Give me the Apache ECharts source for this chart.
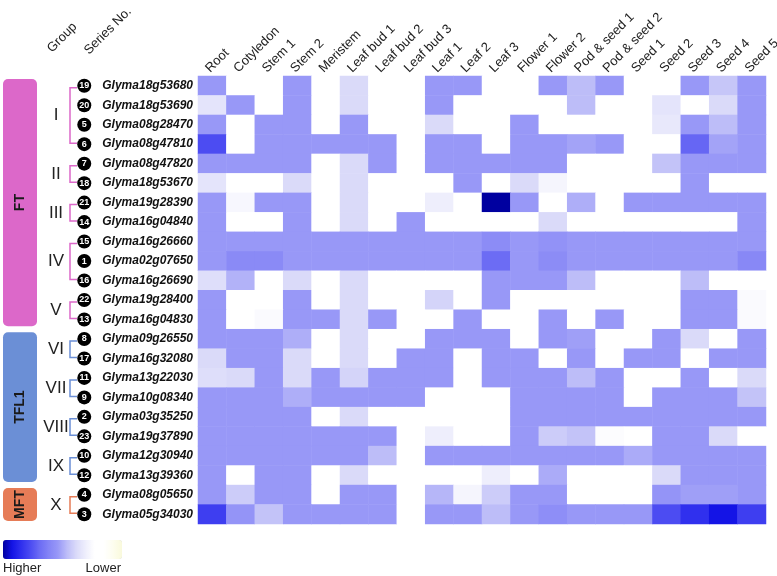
<!DOCTYPE html>
<html>
<head>
<meta charset="utf-8">
<script src="https://cdn.jsdelivr.net/npm/echarts@6/dist/echarts.min.js"></script>
<style>
html,body{margin:0;padding:0;background:#fff;}
#chart{width:777px;height:576px;}
</style>
</head>
<body>
<div id="chart"></div>
<script>
const tissues = ['Root','Cotyledon','Stem 1','Stem 2','Meristem','Leaf bud 1','Leaf bud 2','Leaf bud 3','Leaf 1','Leaf 2','Leaf 3','Flower 1','Flower 2','Pod & seed 1','Pod & seed 2','Seed 1','Seed 2','Seed 3','Seed 4','Seed 5'];
const genes = ['Glyma18g53680','Glyma18g53690','Glyma08g28470','Glyma08g47810','Glyma08g47820','Glyma18g53670','Glyma19g28390','Glyma16g04840','Glyma16g26660','Glyma02g07650','Glyma16g26690','Glyma19g28400','Glyma16g04830','Glyma09g26550','Glyma16g32080','Glyma13g22030','Glyma10g08340','Glyma03g35250','Glyma19g37890','Glyma12g30940','Glyma13g39360','Glyma08g05650','Glyma05g34030'];
const seriesNo = [19,20,5,6,7,18,21,14,15,1,16,22,13,8,17,11,9,2,23,10,12,4,3];

// relative expression level (0 = lowest/white ... 10 = highest/dark blue)
const expr = [
  [4,0,0,4,0,2,0,0,4,4,0,0,4,3,4,0,0,4,2.7,4],
  [1.5,4,0,4,0,2,0,0,4,0,0,0,0,3,0,0,1.5,0,2,4],
  [4,0,4,4,0,4,0,0,2,0,0,4,0,0,0,0,1.3,4,3,4],
  [7,0,4,4,4,4,4,0,4,4,0,4,4,3.7,4,0,0,6.2,3.7,4],
  [4,4,4,4,0,2,4,0,4,4,4,4,4,0,0,0,2.8,4,4,4],
  [1.5,0,0,2,0,2,0,0,0,4,0,2,0.6,0,0,0,0,4,0,0],
  [4,0.5,4,4,0,2,0,0,1,0,10,4,0,3.4,0,4,4,4,4,4],
  [4,0,0,4,0,2,0,4,0,0,0,0,2,0,0,0,0,0,0,4],
  [4,4,4,4,4,4,4,4,4,4,4.6,4,4.3,4,4,4,4,4,4,4],
  [4,4.7,4.7,4,4,4,4,4,4,4,6,4,4.6,4,4,4,4,4,4,4.8],
  [1.8,3.3,0,2,0,2,0,0,0,0,4,4,4,3,0,0,0,3,0,0],
  [4,0,0,4,0,2,0,0,2.2,0,4,0,0,0,0,0,0,4,4,0.3],
  [4,0,0.3,4,4,2,4,0,0,4,0,0,4,0,4,0,0,4,4,0.3],
  [4,4,4,3.4,0,2,0,0,4,4,4,0,4,3.8,0,0,4,2,0,4],
  [2,4,4,2,0,2,0,4,4,0,4,4,0,4,0,4,4,0,4,4],
  [1.8,2,4,2,4,2.2,4,4,4,0,4,4,4,3,4,0,0,4,0,2],
  [4,4,4,3.4,4,4,4,4,0,0,0,4,4,4,4,0,4,4,4,2.8],
  [4,4,4,4,0,2,0,0,0,0,0,4,4,4,4,4,4,4,4,4],
  [4,4,4,4,4,4,4,0,1,0,0,4,2.5,2.8,0.2,0,4,4,2,0],
  [4,4,4,4,4,4,3,0,4,4,4,4,4,4,4,3.5,4,4,4,4],
  [4,0,4,4,0,2,0,0,0,0,1,0,3.5,0,0,0,2,4,4,4],
  [4,2.5,4,4,0,4,4,0,3.2,0.6,2.5,4,4,0,0,0,4.2,3.8,3.8,4],
  [7.5,4.2,2.8,4,4,4,4,0,4,4,3,4,4.5,4,4,4,7,8,9,7.5]
];

const groupNames = ['I','II','III','IV','V','VI','VII','VIII','IX','X'];
const groupStart = [0,4,6,8,11,13,15,17,19,21];
const groupEnd   = [3,5,7,10,12,14,16,18,20,22];
const groupFamily = [0,0,0,0,0,1,1,1,1,2];
const families = ['FT','TFL1','MFT'];
const familyStart = [0,13,21];
const familyEnd = [12,20,22];
const familyColors = ['#dc68c9','#6b8fd6','#e67c57'];

const levelColors = ['#f9f9dc','#fdfdef','#ffffff','#ffffff','#eeeefc','#dadaf9','#bdbdf8','#9898f7','#8484f6','#6c6cf4','#4c4cf2','#3030ee','#1414e6','#0000a0'];

const FONT = 'Arial, "Liberation Sans", Helvetica, sans-serif';

const data = [];
for (let i = 0; i < genes.length; i++) {
  for (let j = 0; j < tissues.length; j++) {
    data.push([j, i, expr[i][j]]);
  }
}

const chart = echarts.init(document.getElementById('chart'), null, {renderer: 'canvas'});
chart.setOption({
  animation: false,
  backgroundColor: '#ffffff',
  textStyle: {fontFamily: FONT},
  grid: {left: 198, right: 11, top: 76, bottom: 52, containLabel: false, outerBoundsMode: 'none'},
  xAxis: {
    type: 'category', data: tissues, position: 'top',
    axisLine: {show: false}, axisTick: {show: false}, splitLine: {show: false},
    axisLabel: {interval: 0, rotate: -45, fontSize: 13, color: '#222', margin: 1, verticalAlign: 'bottom', fontFamily: FONT}
  },
  yAxis: {
    type: 'category', data: genes, inverse: true,
    axisLine: {show: false}, axisTick: {show: false}, splitLine: {show: false},
    axisLabel: {
      interval: 0, margin: 5, fontFamily: FONT,
      formatter: function (val, idx) { return '{n|' + seriesNo[idx] + '}{g|' + val + '}'; },
      rich: {
        n: {backgroundColor: '#000', color: '#fff', borderRadius: 7, width: 14, height: 14, lineHeight: 14, align: 'center', fontSize: 9, fontWeight: 'bold', fontFamily: FONT},
        g: {fontSize: 12, fontWeight: 'bold', fontStyle: 'italic', color: '#111', padding: [0, 0, 0, 11], fontFamily: FONT}
      }
    }
  },
  visualMap: {
    type: 'continuous', min: -3, max: 10, orient: 'horizontal', inverse: true,
    left: 3, top: 540, itemWidth: 19, itemHeight: 119, padding: 0,
    calculable: false, hoverLink: false, text: null, showLabel: false,
    inRange: {color: levelColors}
  },
  series: [{
    type: 'heatmap', data: data,
    itemStyle: {borderWidth: 0},
    emphasis: {disabled: true},
    progressive: 0
  }]
});

// decorations computed from the axes
function cellCenter(row) { return chart.convertToPixel({xAxisIndex: 0, yAxisIndex: 0}, [0, row]); }
const rowH = cellCenter(1)[1] - cellCenter(0)[1];
const g = [];
for (let f = 0; f < families.length; f++) {
  const top = cellCenter(familyStart[f])[1] - rowH / 2 + 3;
  const bot = cellCenter(familyEnd[f])[1] + rowH / 2 - 3;
  g.push({type: 'rect', shape: {x: 3, y: top, width: 34, height: bot - top, r: 5}, style: {fill: familyColors[f]}});
  g.push({type: 'text', x: 20, y: (top + bot) / 2, rotation: Math.PI / 2,
    style: {text: families[f], fill: '#1a1a1a', font: 'bold 14px ' + FONT, align: 'center', verticalAlign: 'middle', textAlign: 'center', textVerticalAlign: 'middle'}});
}
for (let k = 0; k < groupNames.length; k++) {
  const y1 = cellCenter(groupStart[k])[1] + 2;
  const y2 = cellCenter(groupEnd[k])[1] - 1;
  const col = familyColors[groupFamily[k]];
  g.push({type: 'polyline', shape: {points: [[77, y1], [70, y1], [70, y2], [77, y2]]}, style: {stroke: col, lineWidth: 1.5, fill: null}});
  g.push({type: 'text', x: 56, y: (y1 + y2) / 2,
    style: {text: groupNames[k], fill: '#222', font: '17px ' + FONT, align: 'center', verticalAlign: 'middle', textAlign: 'center', textVerticalAlign: 'middle'}});
}
g.push({type: 'text', x: 54, y: 55, rotation: Math.PI / 4,
  style: {text: 'Group', fill: '#222', font: '13px ' + FONT, align: 'left', verticalAlign: 'bottom', textAlign: 'left', textVerticalAlign: 'bottom'}});
g.push({type: 'text', x: 91, y: 57, rotation: Math.PI / 4,
  style: {text: 'Series No.', fill: '#222', font: '13px ' + FONT, align: 'left', verticalAlign: 'bottom', textAlign: 'left', textVerticalAlign: 'bottom'}});
g.push({type: 'text', x: 3, y: 562,
  style: {text: 'Higher', fill: '#222', font: '13px ' + FONT, align: 'left', verticalAlign: 'top', textAlign: 'left', textVerticalAlign: 'top'}});
g.push({type: 'text', x: 121, y: 562,
  style: {text: 'Lower', fill: '#222', font: '13px ' + FONT, align: 'right', verticalAlign: 'top', textAlign: 'right', textVerticalAlign: 'top'}});
chart.setOption({graphic: {elements: g}});
</script>
</body>
</html>
